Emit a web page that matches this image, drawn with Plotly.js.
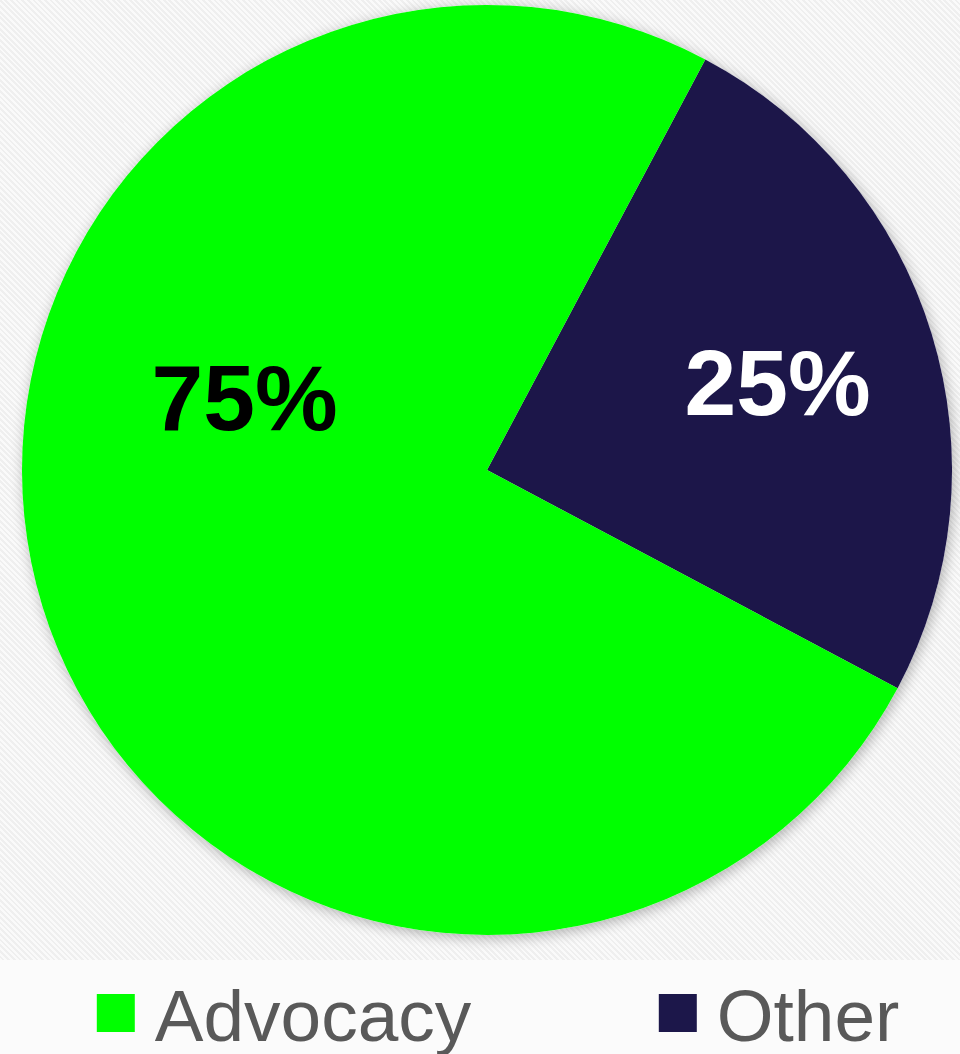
<!DOCTYPE html>
<html>
<head>
<meta charset="utf-8">
<script src="https://cdn.plot.ly/plotly-3.0.1.min.js"></script>
<style>
  html, body { margin: 0; padding: 0; }
  body {
    width: 960px; height: 1054px; overflow: hidden;
    background:
      linear-gradient(to bottom, rgba(0,0,0,0) 0 960px, #fbfbfb 960px 1054px),
      repeating-linear-gradient(45deg, #efefef 0 2px, #fafafa 2px 4px);
  }
  #chart { width: 960px; height: 1054px; }
</style>
</head>
<body>
<div id="chart"></div>
<script>
const categories = ["Other", "Advocacy"];
const values = [25, 75];
const colors = ["#1c174a", "#00ff00"];
const textColors = ["#ffffff", "#000000"];

const trace = {
  type: "pie",
  labels: categories,
  values: values,
  sort: false,
  direction: "clockwise",
  rotation: 28,
  marker: { colors: colors, line: { width: 0 } },
  textinfo: "percent",
  texttemplate: "%{percent:.0%}",
  textposition: "inside",
  insidetextorientation: "horizontal",
  insidetextfont: { family: "Liberation Sans, Arial, sans-serif", size: 93, color: textColors, weight: "bold" },
  hoverinfo: "none",
  domain: { x: [0.0229, 0.9917], y: [0.1129, 0.9953] },
  showlegend: true
};

const layout = {
  width: 960,
  height: 1054,
  margin: { l: 0, r: 0, t: 0, b: 0 },
  paper_bgcolor: "rgba(0,0,0,0)",
  plot_bgcolor: "rgba(0,0,0,0)",
  showlegend: true,
  legend: {
    orientation: "h",
    x: 0.08, xanchor: "left",
    y: 0.0, yanchor: "bottom",
    traceorder: "reversed",
    itemwidth: 68,
    font: { family: "Liberation Sans, Arial, sans-serif", size: 73, color: "#595959" },
    bgcolor: "rgba(0,0,0,0)"
  }
};

Plotly.newPlot("chart", [trace], layout, { displayModeBar: false, staticPlot: true }).then(function (gd) {
  // enlarge legend squares
  gd.querySelectorAll(".legend .legendpoints path").forEach(function (p) {
    p.setAttribute("d", "M19,19H-19V-19H19Z");
  });
  // let legend entries extend past the auto-sized legend box
  gd.querySelectorAll(".legend .scrollbox").forEach(function (s) {
    s.removeAttribute("clip-path");
  });
  // spread legend entries like the reference (equal-width cells) and sit them in the bottom band
  const items = Array.from(gd.querySelectorAll(".legend .traces"));
  const m = /translate\(([-\d.]+),\s*([-\d.]+)\)/.exec(items.length ? (items[0].getAttribute("transform") || "") : "");
  if (m) {
    const x0 = parseFloat(m[1]), y0 = parseFloat(m[2]);
    items.forEach(function (it, i) {
      it.setAttribute("transform", "translate(" + (x0 + 562 * i) + "," + (y0 + 13) + ")");
    });
  }
  // soft outer shadow around the pie
  const svg = gd.querySelector(".main-svg");
  const ns = "http://www.w3.org/2000/svg";
  let defs = svg.querySelector("defs");
  if (!defs) { defs = document.createElementNS(ns, "defs"); svg.insertBefore(defs, svg.firstChild); }
  const f = document.createElementNS(ns, "filter");
  f.setAttribute("id", "pieShadow");
  f.setAttribute("x", "-10%"); f.setAttribute("y", "-10%");
  f.setAttribute("width", "120%"); f.setAttribute("height", "120%");
  f.innerHTML =
    '<feGaussianBlur in="SourceAlpha" stdDeviation="7" result="b"/>' +
    '<feOffset in="b" dx="2" dy="3" result="o"/>' +
    '<feComponentTransfer in="o" result="s"><feFuncA type="linear" slope="0.3"/></feComponentTransfer>' +
    '<feComposite in="s" in2="SourceAlpha" operator="out" result="so"/>' +
    '<feMerge><feMergeNode in="so"/><feMergeNode in="SourceGraphic"/></feMerge>';
  defs.appendChild(f);
  gd.querySelectorAll(".pielayer .trace").forEach(function (t) {
    t.setAttribute("filter", "url(#pieShadow)");
  });
  // nudge slice labels toward the positions used in the reference
  const nudges = [[30, -7], [-20, -140]];
  gd.querySelectorAll(".pielayer .slice").forEach(function (s, i) {
    const g = s.querySelector("g.slicetext");
    if (g && nudges[i]) {
      const inner = g.querySelector("text");
      const tr = inner.getAttribute("transform") || "";
      inner.setAttribute("transform", "translate(" + nudges[i][0] + "," + nudges[i][1] + ") " + tr);
    }
  });
});
</script>
</body>
</html>
